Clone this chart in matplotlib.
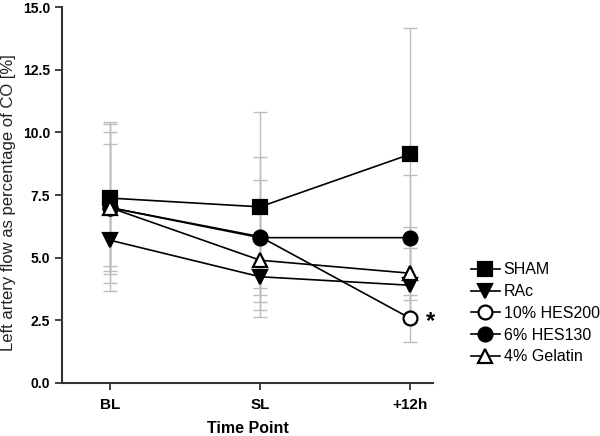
import matplotlib
matplotlib.use("Agg")
import matplotlib.pyplot as plt
import numpy as np

plt.rcParams['font.family'] = ['Liberation Sans', 'DejaVu Sans']

timepoints = ["BL", "SL", "+12h"]
groups = ["SHAM", "RAc", "10% HES200", "6% HES130", "4% Gelatin"]

sham_mean = [7.38, 7.03, 9.13]
sham_sd = [3.04, 3.79, 5.03]
rac_mean = [5.70, 4.24, 3.90]
rac_sd = [1.04, 0.45, 1.50]
hes200_mean = [7.00, 5.84, 2.58]
hes200_sd = [3.02, 3.19, 0.95]
hes130_mean = [7.00, 5.80, 5.80]
hes130_sd = [2.53, 2.29, 2.50]
gelatin_mean = [7.00, 4.90, 4.38]
gelatin_sd = [3.32, 2.00, 1.84]

means = [sham_mean, rac_mean, hes200_mean, hes130_mean, gelatin_mean]
sds = [sham_sd, rac_sd, hes200_sd, hes130_sd, gelatin_sd]
markers = ["s", "v", "o", "o", "^"]
faces = ["black", "black", "white", "black", "white"]

fig = plt.figure(figsize=(6.0, 4.36), dpi=100)
ax = fig.add_axes([0.103, 0.1216, 0.619, 0.862])

x = np.arange(len(timepoints))
handles = []
for m, s in zip(means, sds):
    ax.errorbar(x, m, yerr=s, fmt="none", ecolor="#bdbdbd", elinewidth=1.0,
                capsize=5, capthick=1.0, zorder=1)
for m, mk, fc, lab in zip(means, markers, faces, groups):
    h, = ax.plot(x, m, color="black", lw=1.2, marker=mk, markersize=10,
                 markerfacecolor=fc, markeredgecolor="black", markeredgewidth=1.6,
                 label=lab, zorder=3)
    handles.append(h)

ax.text(2.135, hes200_mean[2] - 0.12, "*", fontsize=17, fontweight="bold",
        ha="center", va="center", clip_on=False)

ax.set_xlim(-0.32, 2.153)
ax.set_ylim(0, 15)
ax.set_yticks(np.arange(0, 15.01, 2.5))
ax.set_yticklabels([f"{v:.1f}" for v in np.arange(0, 15.01, 2.5)],
                   fontweight="bold", fontsize=10)
ax.set_xticks(x)
ax.set_xticklabels(timepoints, fontweight="bold", fontsize=11)
ax.set_xlabel("Time Point", fontweight="bold", fontsize=11.5, labelpad=6)
ax.set_ylabel("Left artery flow as percentage of CO [%]", fontsize=12,
              color="#222222")
ax.yaxis.set_label_coords(-0.122, 0.479)

for sp in ["top", "right"]:
    ax.spines[sp].set_visible(False)
for sp in ["left", "bottom"]:
    ax.spines[sp].set_linewidth(1.5)
    ax.spines[sp].set_color("#333333")
ax.tick_params(axis="both", direction="out", length=5, width=1.3, color="#333333")
ax.tick_params(axis="x", pad=6)

fig.legend(handles=handles, labels=groups, loc="upper left",
           bbox_to_anchor=(0.785, 0.398), frameon=False, fontsize=11.5,
           handlelength=1.8, handletextpad=0.25, labelspacing=0.42,
           borderaxespad=0, borderpad=0)

fig.savefig("out.png", dpi=100)
